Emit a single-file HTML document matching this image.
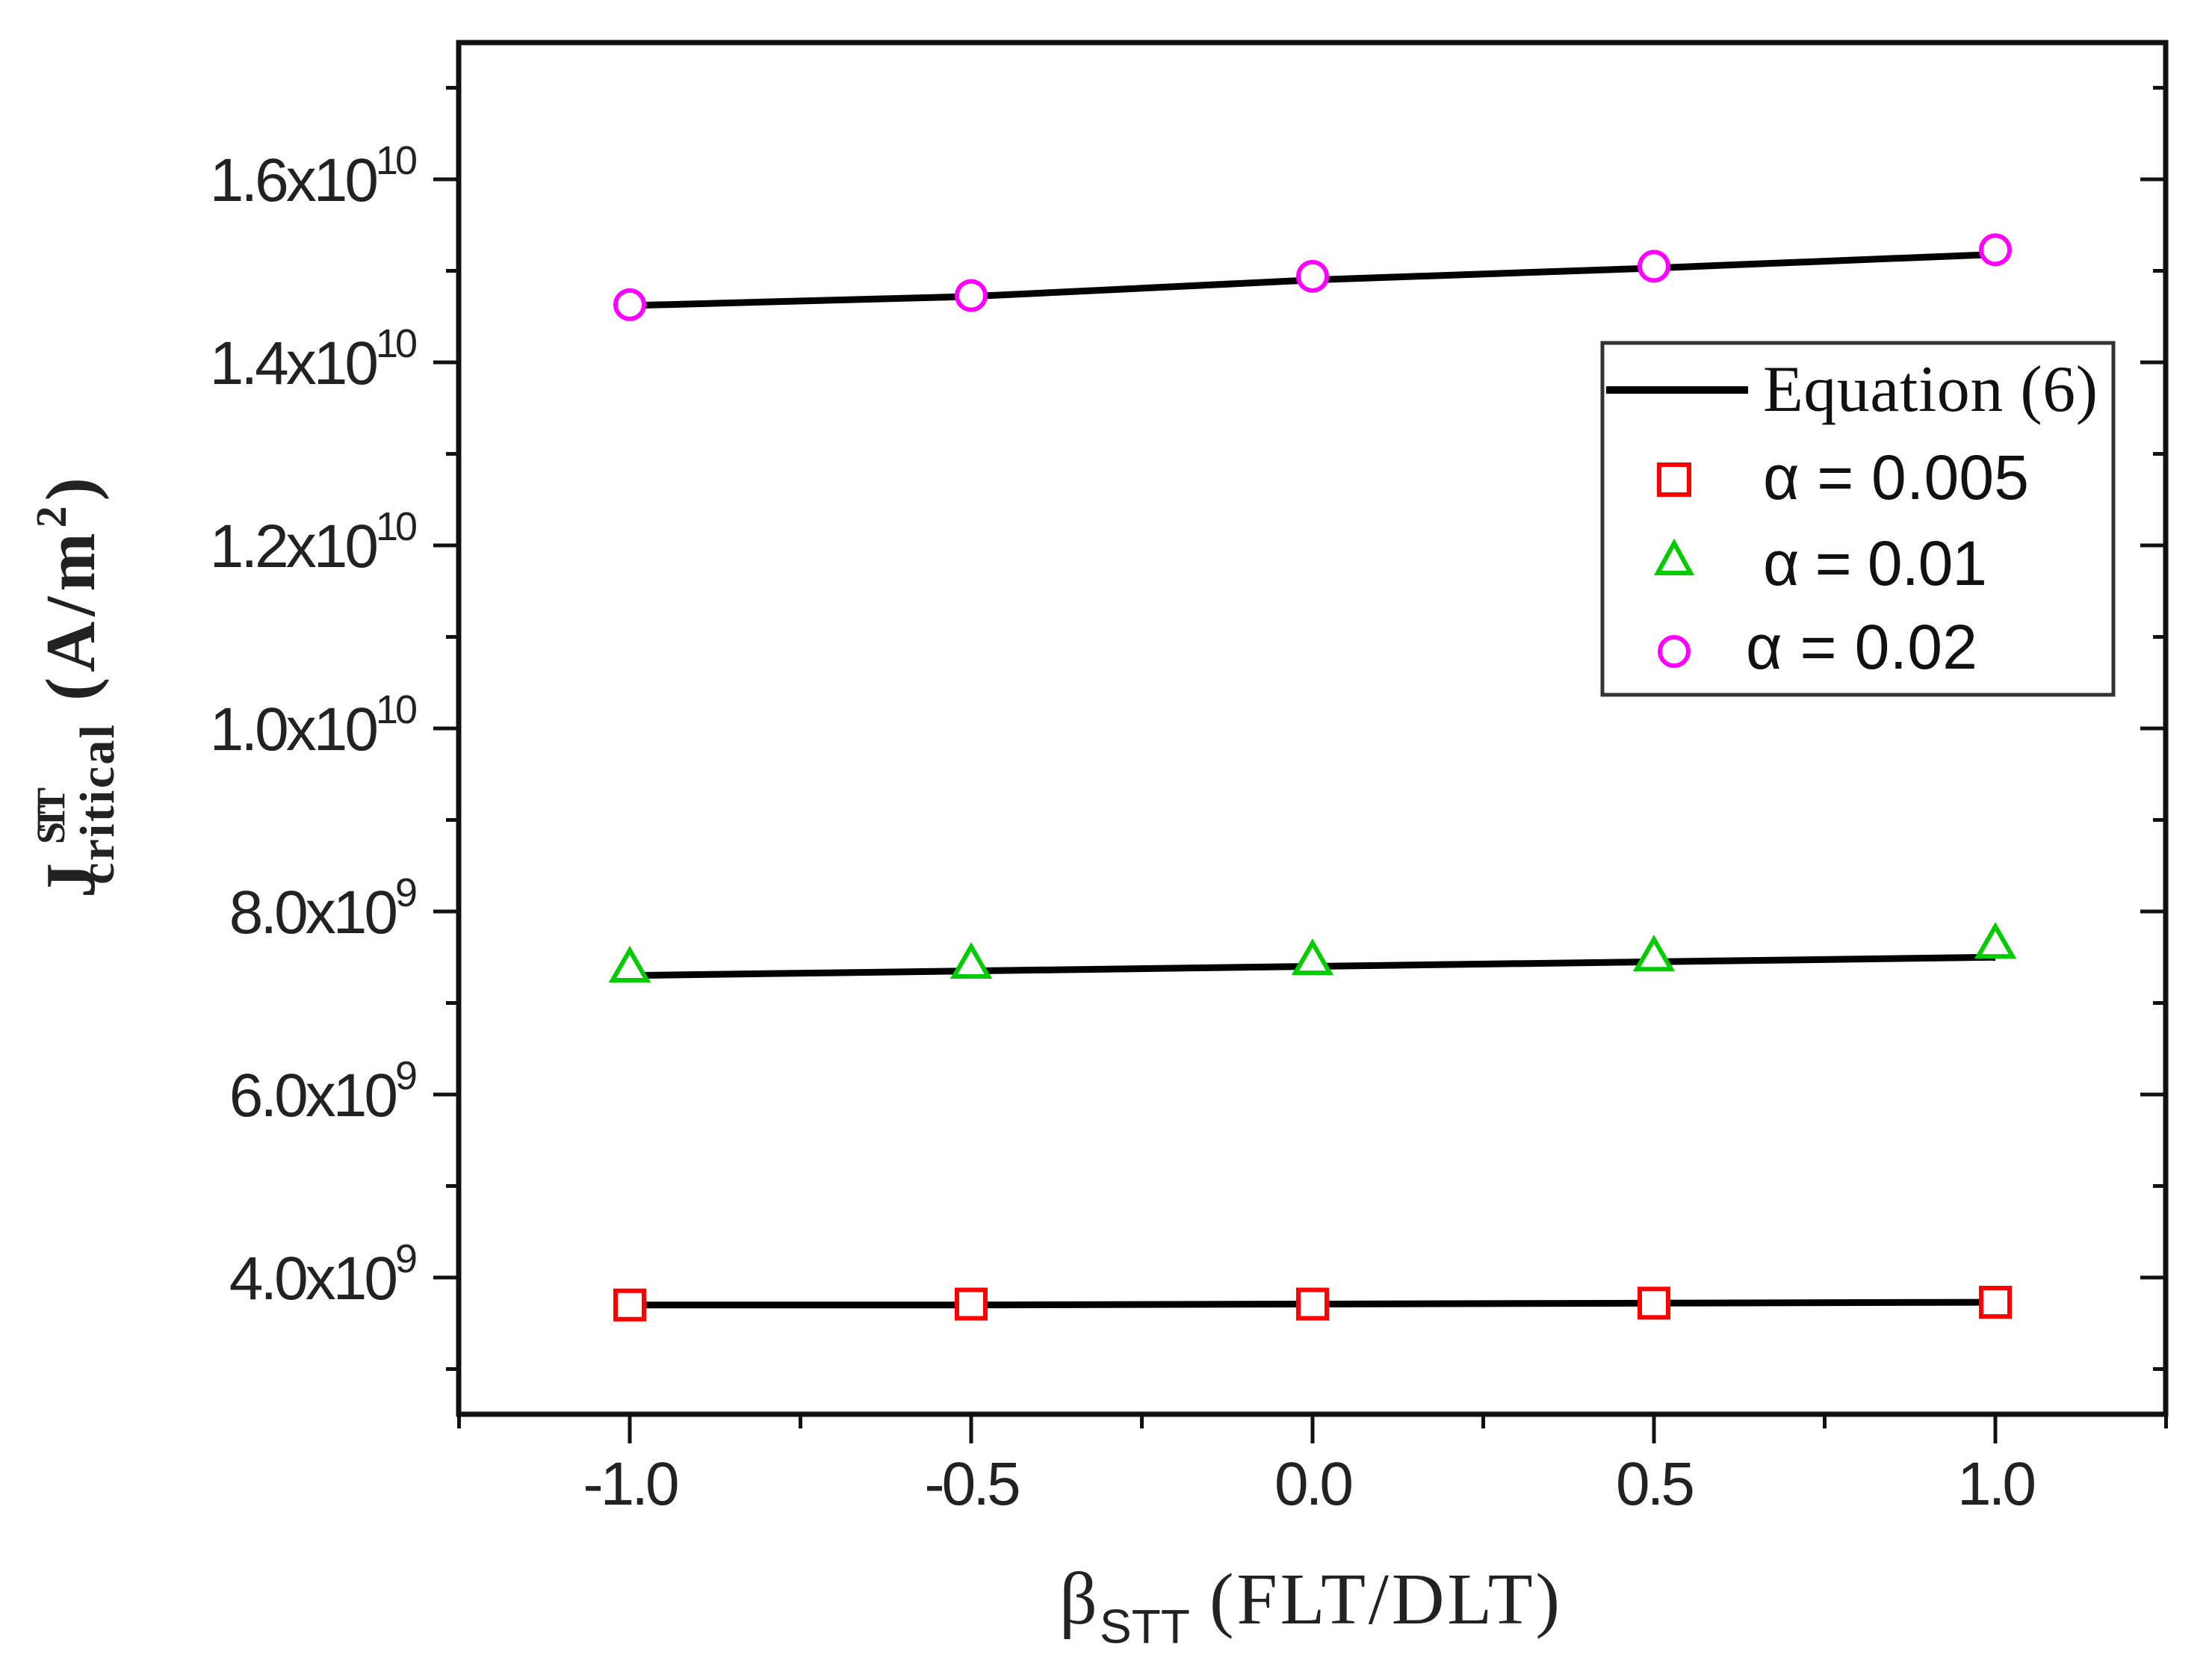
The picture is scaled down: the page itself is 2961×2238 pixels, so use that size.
<!DOCTYPE html>
<html><head><meta charset="utf-8"><style>
html,body{margin:0;padding:0;background:#fff;}
svg{display:block;}
</style></head><body>
<svg id="chart" width="2961" height="2238" viewBox="0 0 2961 2238" xmlns="http://www.w3.org/2000/svg">
<rect x="0" y="0" width="2961" height="2238" fill="#fff"/>
<g id="plot"></g>
<g id="axes"></g>
<g id="legend">
  <rect x="2145" y="459" width="684" height="471" fill="#fff" stroke="#333" stroke-width="5"/>
  <line x1="2150" y1="522" x2="2340" y2="522" stroke="#000" stroke-width="10"/>
  <text x="2360" y="550" font-family="Liberation Serif, serif" font-size="88" fill="#111" textLength="448">Equation (6)</text>
  <rect x="2221" y="622" width="40" height="40" fill="none" stroke="#ff0000" stroke-width="6"/>
  <text x="2360" y="668" font-family="Liberation Sans, sans-serif" font-size="84" fill="#111" textLength="356">α = 0.005</text>
  <polygon points="2241,727 2263,767 2219,767" fill="none" stroke="#00cc00" stroke-width="6"/>
  <text x="2360" y="783" font-family="Liberation Sans, sans-serif" font-size="84" fill="#111" textLength="300">α = 0.01</text>
  <circle cx="2241" cy="872" r="19" fill="none" stroke="#ff00ff" stroke-width="6"/>
  <text x="2337" y="895" font-family="Liberation Sans, sans-serif" font-size="84" fill="#111" textLength="310">α = 0.02</text>
</g>
<g>
  <text x="1418" y="2173" font-family="Liberation Serif, serif" font-size="100" fill="#222">β</text>
  <text x="1472" y="2199" font-family="Liberation Sans, sans-serif" font-size="64" fill="#222">STT</text>
  <text x="1619" y="2173" font-family="Liberation Serif, serif" font-size="98" fill="#222" textLength="469">(FLT/DLT)</text>
</g>
<g transform="translate(126,1202) rotate(-90)" font-weight="bold">
  <text x="0" y="0" font-family="Liberation Serif, serif" font-size="94" fill="#222">J</text>
  <text x="18" y="26" font-family="Liberation Serif, serif" font-size="66" fill="#222" textLength="214">critical</text>
  <text x="72" y="-40" font-family="Liberation Serif, serif" font-size="54" fill="#222" textLength="76">STT</text>
  <text x="264" y="0" font-family="Liberation Serif, serif" font-size="94" fill="#222" textLength="299">(A/m<tspan font-size="58" dy="-38">2</tspan><tspan dy="38">)</tspan></text>
</g>
</svg>
<script>
const xValues = [-1.0, -0.5, 0.0, 0.5, 1.0];
const eqLow = [3.70, 3.70, 3.71, 3.72, 3.73];
const eqMid = [7.30, 7.35, 7.40, 7.45, 7.50];
const eqHigh = [14.62, 14.72, 14.90, 15.03, 15.18];
const alpha0005 = [3.70, 3.71, 3.71, 3.72, 3.73];
const alpha001 = [7.38, 7.42, 7.46, 7.50, 7.64];
const alpha002 = [14.63, 14.73, 14.94, 15.05, 15.23];
const xTickValues = [-1.0, -0.5, 0.0, 0.5, 1.0];
const xTickLabels = ["-1.0", "-0.5", "0.0", "0.5", "1.0"];
const yTickValues = [4, 6, 8, 10, 12, 14, 16];
const yTickMant = ["4.0", "6.0", "8.0", "1.0", "1.2", "1.4", "1.6"];
const yTickExp = ["9", "9", "9", "10", "10", "10", "10"];

const NS = "http://www.w3.org/2000/svg";
const X0 = 614, X1 = 2899, Y0 = 57, Y1 = 1893;
function sx(b){ return 1757 + 914 * b; }
function sy(v){ return 240 + (16 - v) * 122.5; }
function mk(tag, attrs, parent){
  const e = document.createElementNS(NS, tag);
  for (const k in attrs) e.setAttribute(k, attrs[k]);
  parent.appendChild(e);
  return e;
}
const plot = document.getElementById('plot');
const axes = document.getElementById('axes');

const frame = mk('rect', {x:X0, y:Y0, width:X1-X0, height:Y1-Y0, fill:'none', stroke:'#111', 'stroke-width':7}, axes);



for (let b = -1.25; b <= 1.2501; b += 0.25) {
  const major = Math.abs(b*2 - Math.round(b*2)) < 1e-6;
  const t = mk('line', {x1:sx(b), x2:sx(b), y1:Y1, y2:Y1 + (major?39:19), stroke:'#111', 'stroke-width':5}, axes);
  
  
}
xTickValues.forEach((b, i) => {
  const t = mk('text', {x:sx(b), y:2014, 'text-anchor':'middle', 'font-family':'Liberation Sans, sans-serif', 'font-size':82, fill:'#222', 'letter-spacing':-4}, axes);
  t.textContent = xTickLabels[i];
  
  
});
for (let v = 3; v <= 17; v++) {
  const major = v % 2 === 0;
  const len = major ? 34 : 17;
  const t = mk('line', {x1:X0 - len, x2:X0, y1:sy(v), y2:sy(v), stroke:'#111', 'stroke-width':5}, axes);
  
  
  const r = mk('line', {x1:X1 - len, x2:X1, y1:sy(v), y2:sy(v), stroke:'#111', 'stroke-width':5}, axes);
  
  
}
yTickValues.forEach((v, i) => {
  const t = mk('text', {x:555, y:sy(v) + 29, 'text-anchor':'end', 'font-family':'Liberation Sans, sans-serif', 'font-size':82, fill:'#222', 'letter-spacing':-4}, axes);
  t.textContent = yTickMant[i] + 'x10';
  const s = mk('tspan', {'font-size':54, dy:-36}, t);
  s.textContent = yTickExp[i];
  
  
});

[[eqLow,'equation-line-low'],[eqMid,'equation-line-mid'],[eqHigh,'equation-line-high']].forEach(([arr, name]) => {
  const pts = xValues.map((b, i) => sx(b) + ',' + sy(arr[i])).join(' ');
  const l = mk('polyline', {points:pts, fill:'none', stroke:'#000', 'stroke-width':9}, plot);
  
  
});
xValues.forEach((b, i) => {
  const cx = sx(b);
  let y = sy(alpha0005[i]);
  const sq = mk('rect', {x:cx-19, y:y-19, width:38, height:38, fill:'#fff', stroke:'#ff0000', 'stroke-width':6}, plot);
  
  
  y = sy(alpha001[i]);
  const tr = mk('polygon', {points:`${cx},${y-24} ${cx+23},${y+16} ${cx-23},${y+16}`, fill:'#fff', stroke:'#00cc00', 'stroke-width':6}, plot);
  
  
  y = sy(alpha002[i]);
  const c = mk('circle', {cx:cx, cy:y, r:19, fill:'#fff', stroke:'#ff00ff', 'stroke-width':6}, plot);
  
  
});
</script>
</body></html>
